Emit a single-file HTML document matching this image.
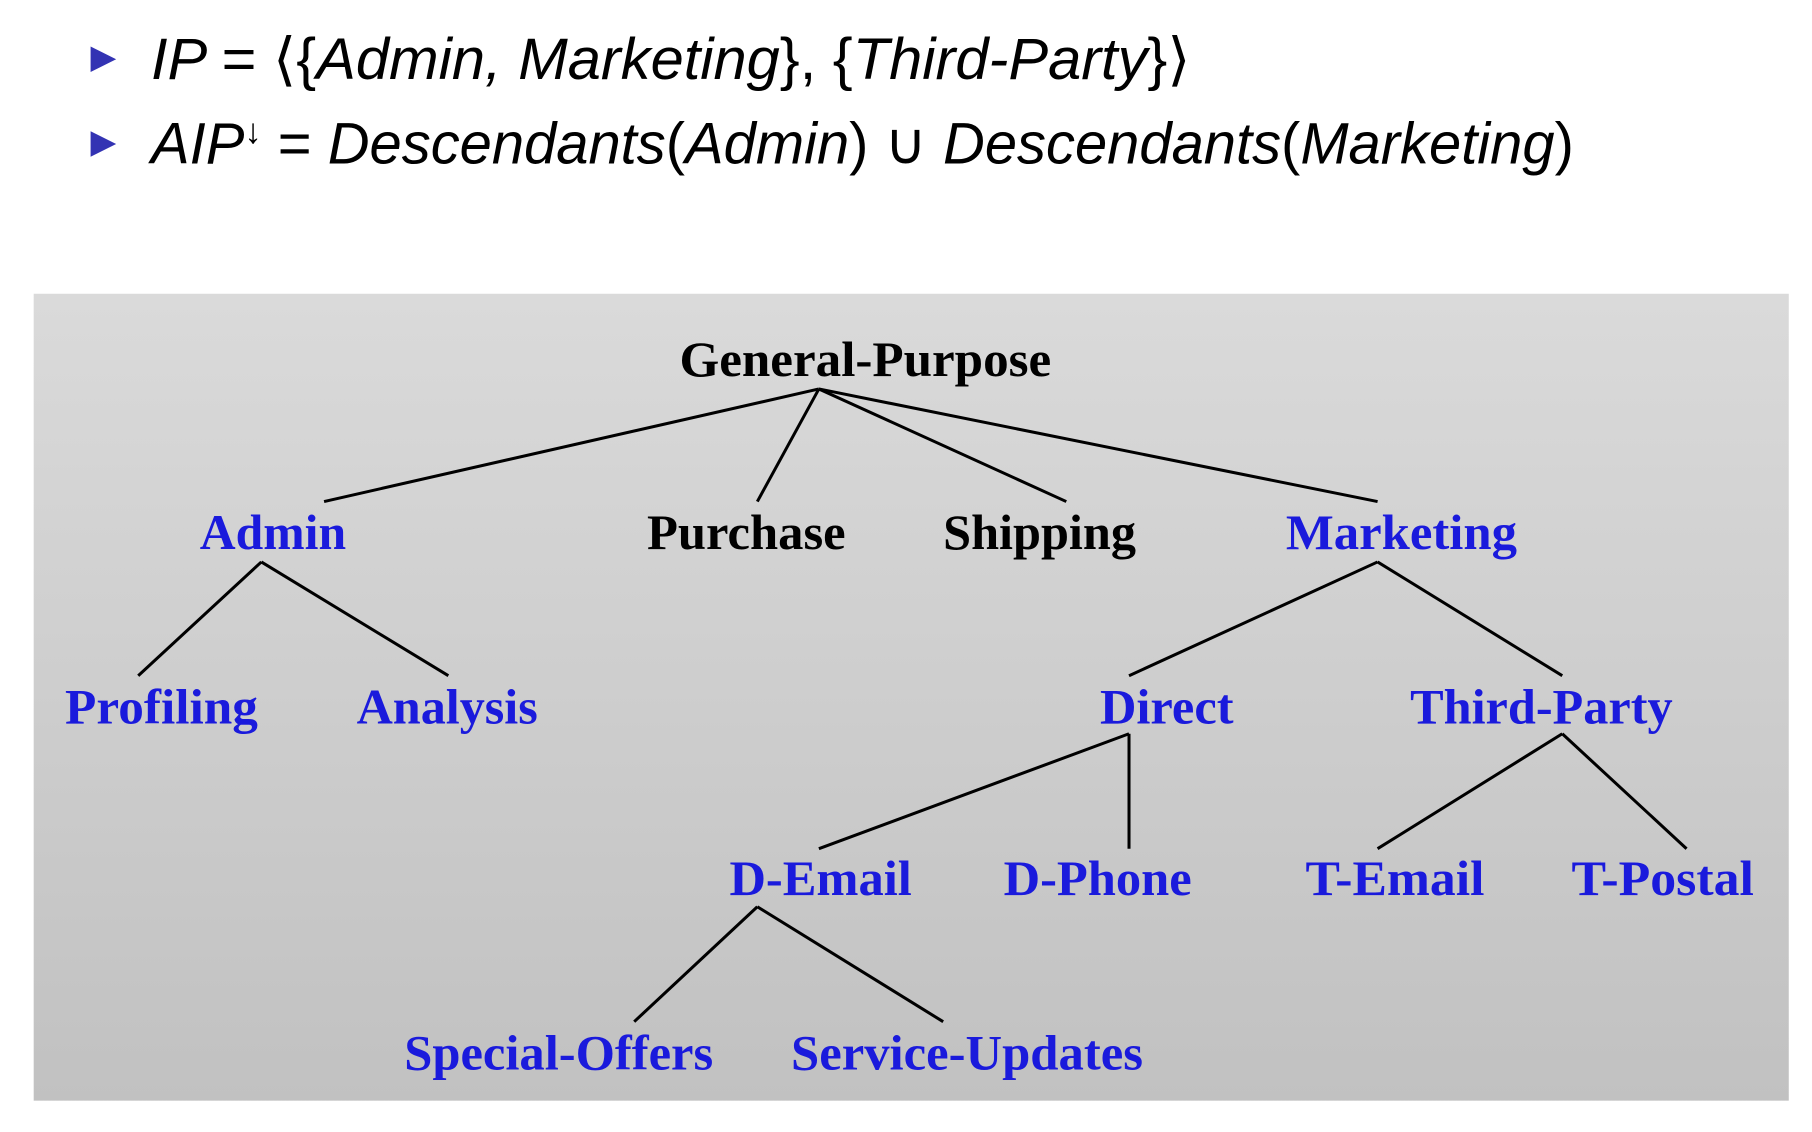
<!DOCTYPE html>
<html><head><meta charset="utf-8"><style>
html,body{margin:0;padding:0;background:#fff;}
svg{display:block;}
.m{font-family:"Liberation Sans",sans-serif;font-style:italic;font-size:50px;fill:#000;}
.t{font-family:"Liberation Serif",serif;font-weight:bold;font-size:43px;}
.b{fill:#1a1adc;}
.k{fill:#000;}
line{stroke:#000;stroke-width:2.6;}
</style></head><body>
<svg width="1812" height="1132" viewBox="0 0 1560 975" preserveAspectRatio="none" xmlns="http://www.w3.org/2000/svg">
<defs><linearGradient id="g" x1="0" y1="0" x2="0" y2="1"><stop offset="0" stop-color="#dadada"/><stop offset="1" stop-color="#c1c1c1"/></linearGradient></defs>
<polygon points="78,40 100,51 78,62" fill="#3333b3"/>
<polygon points="78,113 100,124 78,135" fill="#3333b3"/>
<text class="m" x="130" y="68" textLength="895" lengthAdjust="spacingAndGlyphs">IP <tspan font-style="normal">= ⟨{</tspan>Admin, Marketing<tspan font-style="normal">}, {</tspan>Third-Party<tspan font-style="normal">}⟩</tspan></text>
<text class="m" x="130" y="141" textLength="1225" lengthAdjust="spacingAndGlyphs">AIP<tspan font-style="normal" font-size="30" dy="-18">↓</tspan><tspan dy="18" font-style="normal"> = </tspan>Descendants<tspan font-style="normal">(</tspan>Admin<tspan font-style="normal">) ∪ </tspan>Descendants<tspan font-style="normal">(</tspan>Marketing<tspan font-style="normal">)</tspan></text>
<rect x="29" y="253" width="1511" height="695" fill="url(#g)"/>
<g>
<line x1="705" y1="335" x2="279" y2="432"/><line x1="705" y1="335" x2="652" y2="432"/>
<line x1="705" y1="335" x2="918" y2="432"/><line x1="705" y1="335" x2="1186" y2="432"/>
<line x1="225" y1="484" x2="119" y2="582"/><line x1="225" y1="484" x2="386" y2="582"/>
<line x1="1186" y1="484" x2="972" y2="582"/><line x1="1186" y1="484" x2="1345" y2="582"/>
<line x1="972" y1="632" x2="705" y2="731"/><line x1="972" y1="632" x2="972" y2="731"/>
<line x1="1345" y1="632" x2="1186" y2="731"/><line x1="1345" y1="632" x2="1452" y2="731"/>
<line x1="652" y1="781" x2="546" y2="880"/><line x1="652" y1="781" x2="812" y2="880"/>
</g>
<text class="t k" x="585" y="324" textLength="320" lengthAdjust="spacingAndGlyphs">General-Purpose</text>
<text class="t b" x="172" y="473" textLength="126" lengthAdjust="spacingAndGlyphs">Admin</text>
<text class="t k" x="557" y="473" textLength="171" lengthAdjust="spacingAndGlyphs">Purchase</text>
<text class="t k" x="812" y="473" textLength="166" lengthAdjust="spacingAndGlyphs">Shipping</text>
<text class="t b" x="1107" y="473" textLength="199" lengthAdjust="spacingAndGlyphs">Marketing</text>
<text class="t b" x="56" y="623" textLength="166" lengthAdjust="spacingAndGlyphs">Profiling</text>
<text class="t b" x="307" y="623" textLength="156" lengthAdjust="spacingAndGlyphs">Analysis</text>
<text class="t b" x="947" y="623" textLength="115" lengthAdjust="spacingAndGlyphs">Direct</text>
<text class="t b" x="1214" y="623" textLength="226" lengthAdjust="spacingAndGlyphs">Third-Party</text>
<text class="t b" x="628" y="771" textLength="157" lengthAdjust="spacingAndGlyphs">D-Email</text>
<text class="t b" x="864" y="771" textLength="162" lengthAdjust="spacingAndGlyphs">D-Phone</text>
<text class="t b" x="1124" y="771" textLength="154" lengthAdjust="spacingAndGlyphs">T-Email</text>
<text class="t b" x="1353" y="771" textLength="157" lengthAdjust="spacingAndGlyphs">T-Postal</text>
<text class="t b" x="348" y="921" textLength="266" lengthAdjust="spacingAndGlyphs">Special-Offers</text>
<text class="t b" x="681" y="921" textLength="303" lengthAdjust="spacingAndGlyphs">Service-Updates</text>
</svg>
</body></html>
